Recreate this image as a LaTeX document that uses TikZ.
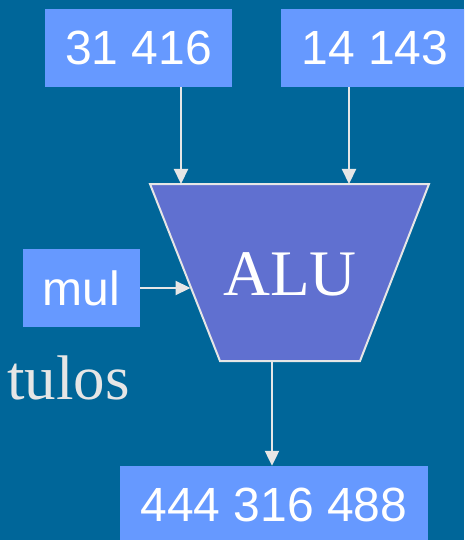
\documentclass[tikz,border=0pt]{standalone}
\usepackage{fontspec}
\setmainfont{Liberation Serif}
\newfontfamily\arialfont{Liberation Sans}
\usetikzlibrary{arrows.meta}
\definecolor{bg}{RGB}{0,102,153}
\definecolor{boxblue}{RGB}{102,153,255}
\definecolor{alufill}{RGB}{96,112,208}
\definecolor{linegray}{RGB}{230,230,230}
\tikzset{
  numbox/.style={fill=boxblue, draw=none, text=white, inner sep=0pt,
    font=\arialfont\fontsize{48}{52}\selectfont},
  conn/.style={draw=linegray, line width=2.2pt, -{Triangle[length=15pt,width=14pt]}},
}
\begin{document}
\begin{tikzpicture}[x=1pt,y=-1pt]
\clip (0,0) rectangle (464,540);
\fill[bg] (0,0) rectangle (464,540);
% boxes
\node[numbox, minimum width=187pt, minimum height=78pt] (a) at (138.5,48) {31 416};
\node[numbox, minimum width=188pt, minimum height=78pt] (b) at (375,48) {14 143};
\node[numbox, minimum width=117pt, minimum height=78pt] (op) at (81.5,288) {mul};
\node[numbox, minimum width=308pt, minimum height=78pt] (out) at (274,505) {444 316 488};
% ALU trapezoid
\coordinate (tl) at (150,184);
\coordinate (tr) at (429,184);
\coordinate (br) at (360,361);
\coordinate (bl) at (220,361);
\filldraw[fill=alufill, draw=linegray, line width=2pt] (tl) -- (tr) -- (br) -- (bl) -- cycle;
\node[text=white, font=\fontsize{65}{70}\selectfont] (alu) at (290,274) {ALU};
\coordinate (inA) at (181,184);
\coordinate (inB) at (349,184);
\coordinate (inOp) at (190.5,288);
\coordinate (outP) at (272,361);
% connectors
\draw[conn] (a.south -| inA) -- (inA);
\draw[conn] (b.south -| inB) -- (inB);
\draw[conn] (op.east) -- (inOp);
\draw[conn] (outP) -- (out.north -| outP);
% partial text
\node[anchor=base west, inner sep=0pt, text=linegray, font=\fontsize{63}{68}\selectfont] (tulos) at (7,399) {tulos};
\end{tikzpicture}
\end{document}
